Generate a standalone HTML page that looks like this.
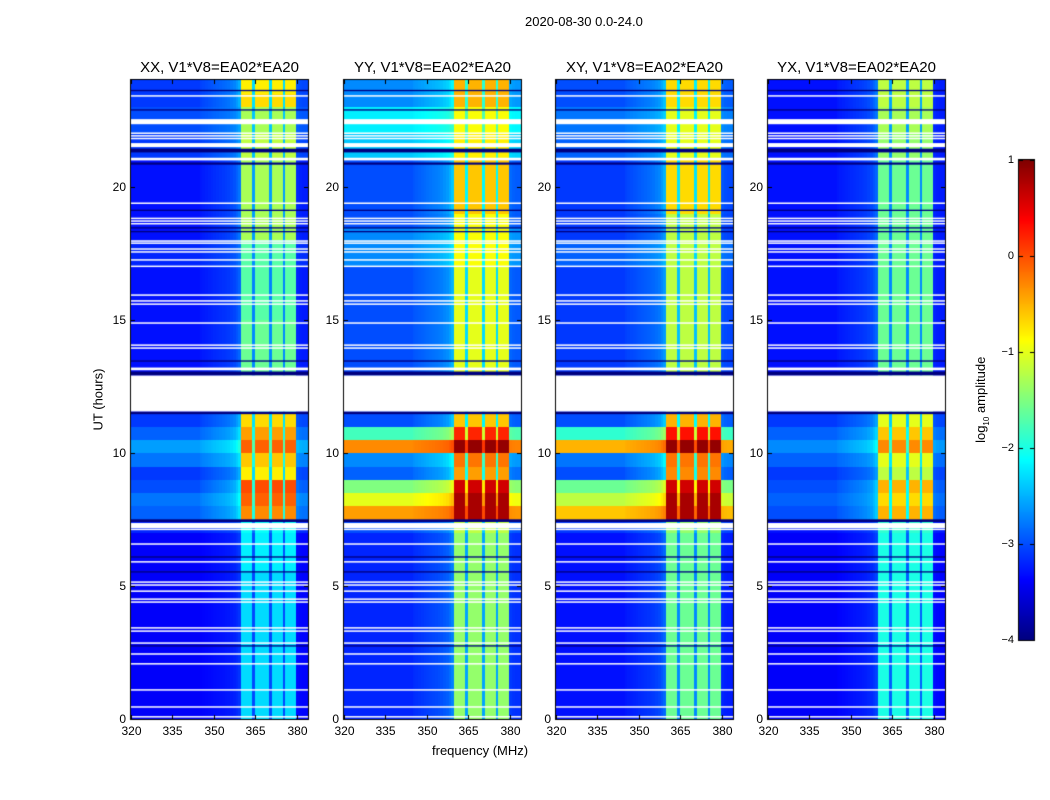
<!DOCTYPE html>
<html><head><meta charset="utf-8">
<style>
body{margin:0;background:#fff;width:1050px;height:800px;overflow:hidden;font-family:"Liberation Sans",sans-serif;}
#wrap{position:relative;width:1050px;height:800px;}
.t{position:absolute;white-space:nowrap;color:#000;}
canvas{position:absolute;left:0;top:0;}
</style></head>
<body>
<div id="wrap">
<canvas id="cv" width="1050" height="800"></canvas>
<div class="t" style="left:525px;top:14px;font-size:13px;">2020-08-30 0.0-24.0</div>
<div class="t" style="left:60px;top:392px;font-size:13px;transform:rotate(-90deg);width:76px;text-align:center;">UT (hours)</div>
<div class="t" style="left:432px;top:743px;font-size:13px;">frequency (MHz)</div>
<div class="t" style="left:932px;top:391px;font-size:13px;transform:rotate(-90deg);width:100px;text-align:center;">log<sub style="font-size:8px">10</sub> amplitude</div>
<div id="labels"></div>
</div>
<script>
const panelTitles=["XX, V1*V8=EA02*EA20","YY, V1*V8=EA02*EA20","XY, V1*V8=EA02*EA20","YX, V1*V8=EA02*EA20"];
const xTicks=[320,335,350,365,380];
const yTicks=[0,5,10,15,20];
const cbTicks=[1,0,-1,-2,-3,-4];
// half-hour bins 0..24h: background and band log amplitudes
const bgXX=[-3.4,-3.4,-3.4,-3.4,-3.4,-3.4,-3.4,-3.4,-3.4,-3.4,-3.4,-3.4,-3.4,-3.4,-3.2,-2.9,-2.8,-3.0,-3.1,-2.8,-2.6,-2.9,-3.1,-3.3,-3.3,-3.3,-3.3,-3.3,-3.3,-3.3,-3.3,-3.3,-3.3,-3.3,-3.2,-3.2,-3.3,-3.3,-3.3,-3.3,-3.3,-3.3,-3.1,-3.1,-3.0,-3.0,-3.1,-3.1];
const bandXX=[-2.3,-2.3,-2.3,-2.3,-2.3,-2.3,-2.3,-2.3,-2.3,-2.3,-2.3,-2.2,-2.2,-2.2,-2.1,-0.3,-0.1,0.0,-0.8,-0.6,-0.1,-0.4,-0.7,-2,-2,-1.6,-1.6,-1.6,-1.6,-1.6,-1.7,-1.7,-1.7,-1.7,-1.7,-1.7,-1.3,-1.3,-1.3,-1.3,-1.3,-1.3,-1.2,-1.2,-1.3,-1.3,-0.7,-0.8];
const bgYY=[-3.2,-3.2,-3.2,-3.2,-3.2,-3.2,-3.2,-3.2,-3.2,-3.2,-3.2,-3.2,-3.2,-3.2,-3.0,-0.4,-1.0,-1.5,-2.9,-2.7,-0.3,-1.8,-3.0,-3,-3,-3.0,-3.0,-3.0,-3.0,-3.0,-3.0,-3.0,-3.0,-3.0,-2.7,-2.7,-2.7,-3.0,-3.0,-3.0,-3.0,-3.0,-2.4,-2.4,-2.2,-2.2,-2.7,-2.7];
const bandYY=[-1.4,-1.4,-1.4,-1.4,-1.4,-1.4,-1.4,-1.4,-1.4,-1.4,-1.4,-1.4,-1.4,-1.4,-1.2,0.8,0.8,0.6,-0.4,-0.2,0.9,0.2,-0.6,-1,-1,-1.0,-1.0,-1.0,-1.0,-1.0,-1.0,-1.0,-1.0,-1.0,-0.9,-0.9,-0.9,-0.9,-0.6,-0.6,-0.6,-0.6,-0.8,-0.8,-0.9,-0.9,-0.5,-0.5];
const bgXY=[-3.3,-3.3,-3.3,-3.3,-3.3,-3.3,-3.3,-3.3,-3.3,-3.3,-3.3,-3.3,-3.3,-3.3,-3.1,-0.6,-1.2,-1.6,-3.0,-2.8,-0.5,-1.9,-3.0,-3.1,-3.1,-3.1,-3.1,-3.1,-3.1,-3.1,-3.1,-3.1,-3.1,-3.1,-2.9,-2.9,-3.1,-3.1,-3.1,-3.1,-3.1,-3.1,-2.9,-2.9,-2.8,-2.8,-3.0,-3.0];
const bandXY=[-1.6,-1.6,-1.6,-1.6,-1.6,-1.6,-1.6,-1.6,-1.6,-1.6,-1.6,-1.6,-1.6,-1.6,-1.4,0.8,0.8,0.6,-0.3,-0.2,0.9,0.3,-0.5,-1.2,-1.2,-1.2,-1.2,-1.2,-1.2,-1.2,-1.2,-1.2,-1.2,-1.2,-1.2,-1.2,-1.2,-1.2,-0.7,-0.7,-0.7,-0.7,-1.0,-1.0,-1.0,-1.0,-0.7,-0.7];
const bgYX=[-3.4,-3.4,-3.4,-3.4,-3.4,-3.4,-3.4,-3.4,-3.4,-3.4,-3.4,-3.4,-3.4,-3.4,-3.3,-3.0,-2.9,-3.0,-3.1,-2.9,-2.7,-2.9,-3.1,-3.3,-3.3,-3.3,-3.3,-3.3,-3.3,-3.3,-3.3,-3.3,-3.3,-3.3,-3.3,-3.3,-3.3,-3.3,-3.3,-3.3,-3.3,-3.3,-3.3,-3.3,-3.3,-3.3,-3.3,-3.3];
const bandYX=[-2.0,-2.0,-2.0,-2.0,-2.0,-2.0,-2.0,-2.0,-2.0,-2.0,-2.0,-2.0,-2.0,-2.0,-1.9,-0.5,-0.7,-0.5,-1.2,-1.0,-0.3,-0.6,-1.0,-1.6,-1.6,-1.6,-1.6,-1.6,-1.6,-1.6,-1.6,-1.6,-1.6,-1.6,-1.6,-1.6,-1.6,-1.6,-1.6,-1.6,-1.6,-1.6,-1.4,-1.4,-1.3,-1.3,-1.2,-1.2];
// per-MHz column mix from background (0) to band (1), 320..384
const colMix=[0,0,0,0,0,0,0,0,0,0,0,0,0,0,0,0,0,0,0,0,0,0,0,0,0,0.02,0.03,0.04,0.05,0.06,0.07,0.08,0.09,0.1,0.11,0.12,0.14,0.16,0.2,0.25,1,1,1,1,0.35,1,1,1,1,1,0.35,1,1,1,1,0.35,1,1,1,1,0.06,0.04,0.03,0.03];
// flagged rows (hours) shown white, and dark rows
const whiteRows=[[11.55,12.9],[7.17,7.36],[7.1,7.15],[6.55,6.6],[5.88,5.93],[5.12,5.17],[5.01,5.06],[4.78,4.83],[4.48,4.53],[4.37,4.42],[3.4,3.45],[3.28,3.33],[2.83,2.88],[2.42,2.47],[2.05,2.1],[1.07,1.12],[0.43,0.48],[0.06,0.11],[13.1,13.2],[13.91,13.96],[14.02,14.07],[14.85,14.9],[15.56,15.61],[15.68,15.73],[15.9,15.95],[16.98,17.03],[17.22,17.27],[17.52,17.57],[17.63,17.68],[17.85,17.9],[17.93,17.98],[18.58,18.63],[18.68,18.73],[18.78,18.83],[19.35,19.4],[20.98,21.08],[21.48,21.63],[21.78,21.83],[21.88,21.93],[21.98,22.03],[22.34,22.53],[23.38,23.43]];
const darkRows=[[2.72,2.77],[5.5,5.55],[6.06,6.11],[7.4,7.5],[11.45,11.55],[12.9,13.05],[13.42,13.47],[18.28,18.33],[18.42,18.47],[19.08,19.13],[20.82,20.9],[21.28,21.42],[22.85,22.9],[23.58,23.63]];

const bgs=[bgXX,bgYY,bgXY,bgYX], bands=[bandXX,bandYY,bandXY,bandYX];
const panelX=[131,344,556,768], PW=177, TOP=80, BOT=719;
const fmin=320,fmax=384,hmax=24;
const xs=(f,p)=>panelX[p]+(f-fmin)/(fmax-fmin)*PW;
const ys=h=>BOT-h/hmax*(BOT-TOP);
function jet(v){let t=Math.max(0,Math.min(1,(v+4)/5));const c=x=>Math.round(255*Math.max(0,Math.min(1,1.5-Math.abs(4*t-x))));return `rgb(${c(3)},${c(2)},${c(1)})`;}
const cv=document.getElementById('cv'),ctx=cv.getContext('2d');
const lab=document.getElementById('labels');
function txt(s,x,y,size,name,align){const d=document.createElement('div');d.className='t';d.textContent=s;d.style.fontSize=size+'px';d.style.top=y+'px';
 if(align==='c'){d.style.left=(x-100)+'px';d.style.width='200px';d.style.textAlign='center';}else if(align==='r'){d.style.left=(x-60)+'px';d.style.width='60px';d.style.textAlign='right';}else d.style.left=x+'px';
 
 
 lab.appendChild(d);}
for(let p=0;p<4;p++){
 const bg=bgs[p],bd=bands[p];
 for(let i=0;i<bg.length;i++){
  const y0=ys(i*0.5),y1=ys((i+1)*0.5);
  for(let c=0;c<colMix.length;c++){
   const v=bg[i]+(bd[i]-bg[i])*colMix[c];
   ctx.fillStyle=jet(v);
   const x0=xs(fmin+c,p),x1=xs(fmin+c+1,p);
   ctx.fillRect(Math.floor(x0),Math.floor(y1),Math.ceil(x1)-Math.floor(x0),Math.ceil(y0)-Math.floor(y1));
  }
 }
 ctx.fillStyle='#00007f';
 darkRows.forEach(r=>{ctx.fillRect(panelX[p],ys(r[1]),PW,Math.max(1.2,ys(r[0])-ys(r[1])));});
 ctx.fillStyle='#fff';
 whiteRows.forEach(r=>{ctx.fillRect(panelX[p],ys(r[1]),PW,Math.max(1.5,ys(r[0])-ys(r[1])));});
 ctx.strokeStyle='#000';ctx.lineWidth=1;ctx.strokeRect(panelX[p]-0.5,TOP-0.5,PW+1,BOT-TOP+1);
 xTicks.forEach(f=>{const x=Math.round(xs(f,p))+0.5;ctx.beginPath();ctx.moveTo(x,BOT);ctx.lineTo(x,BOT-4);ctx.moveTo(x,TOP);ctx.lineTo(x,TOP+4);ctx.stroke();
  txt(String(f),x,724,12,'x-tick-label','c');});
 yTicks.forEach(h=>{const y=Math.round(ys(h))+0.5;ctx.beginPath();ctx.moveTo(panelX[p],y);ctx.lineTo(panelX[p]+4,y);ctx.moveTo(panelX[p]+PW,y);ctx.lineTo(panelX[p]+PW-4,y);ctx.stroke();
  txt(String(h),panelX[p]-5,y-8,12,'y-tick-label','r');});
 txt(panelTitles[p],panelX[p]+PW/2,59,15,'panel-title','c');
}
// colorbar
const CBX=1019,CBW=15,CBT=160,CBB=640;
const cbs=v=>CBB-(v+4)/5*(CBB-CBT);
for(let y=CBT;y<CBB;y++){ctx.fillStyle=jet(-4+(CBB-y-0.5)/(CBB-CBT)*5);ctx.fillRect(CBX,y,CBW,1);}
ctx.strokeStyle='#000';ctx.strokeRect(CBX-0.5,CBT-0.5,CBW+1,CBB-CBT+1);
cbTicks.forEach(v=>{const y=Math.round(cbs(v))+0.5;ctx.beginPath();ctx.moveTo(CBX,y);ctx.lineTo(CBX+4,y);ctx.moveTo(CBX+CBW,y);ctx.lineTo(CBX+CBW-4,y);ctx.stroke();
 txt(v<0?'\u2212'+(-v):String(v),1014,y-7,11,'colorbar-tick-label','r');});
</script>
</body></html>
